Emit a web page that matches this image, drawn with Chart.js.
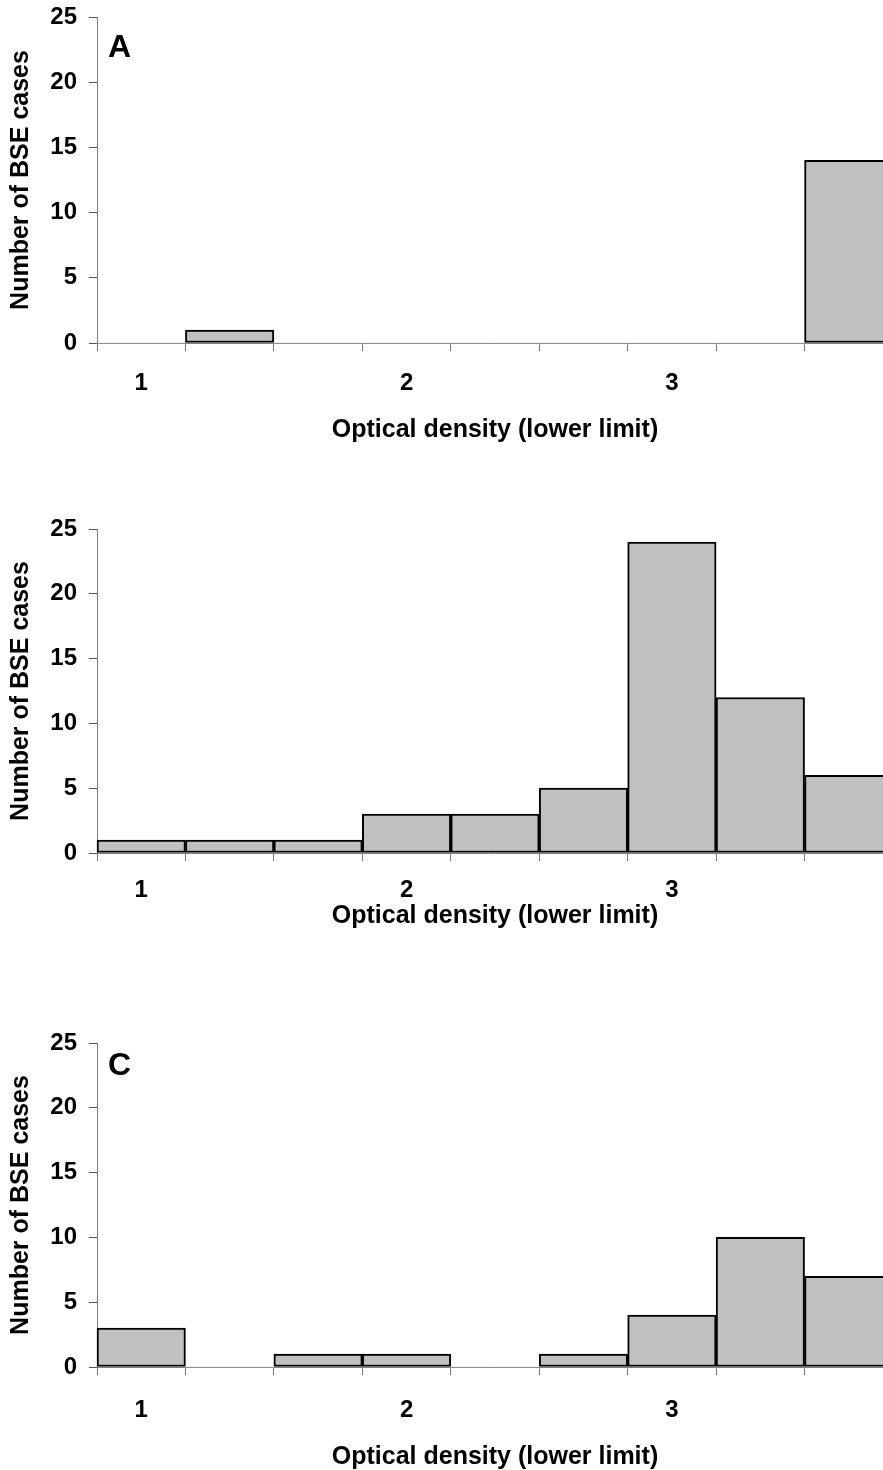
<!DOCTYPE html>
<html>
<head>
<meta charset="utf-8">
<title>BSE cases by optical density</title>
<script src="https://cdn.jsdelivr.net/npm/chart.js@4.4.1/dist/chart.umd.min.js"></script>
<style>
    html, body { margin: 0; padding: 0; background: #fff; overflow: hidden; }
    .panel { position: absolute; left: 0; }
</style>
</head>
<body>
<div class="panel" id="wrapA" style="top:0px"><canvas id="chartA"></canvas></div>
<div class="panel" id="wrapB" style="top:512px"><canvas id="chartB"></canvas></div>
<div class="panel" id="wrapC" style="top:1026px"><canvas id="chartC"></canvas></div>
<script>
// Histogram data, one array per panel (9 bins of optical density)
const binLabels = ['1', '', '', '2', '', '', '3', '', ''];
const casesA = [0, 1, 0, 0, 0, 0, 0, 0, 14];
const casesB = [1, 1, 1, 3, 3, 5, 24, 12, 6];
const casesC = [3, 0, 1, 1, 0, 1, 4, 10, 7];
const yMin = 0;
const yMax = 25;
const yStep = 5;
const xTitle = 'Optical density (lower limit)';
const yTitle = 'Number of BSE cases';

const FONT = '"Liberation Sans", Arial, sans-serif';
const AXIS_GREY = '#7f7f7f';

// Draws the panel letter (A, C) in the top left corner of the plot
const panelLetter = {
    id: 'panelLetter',
    afterDraw(chart, args, opts) {
        if (!opts.text) return;
        const { ctx, chartArea } = chart;
        ctx.save();
        ctx.font = 'bold 32px ' + FONT;
        ctx.fillStyle = '#000';
        ctx.textBaseline = 'alphabetic';
        ctx.fillText(opts.text, chartArea.left + opts.dx, chartArea.top + opts.dy);
        ctx.restore();
    }
};

function drawPanel(canvasId, values, letter, lay) {
    const canvas = document.getElementById(canvasId);
    canvas.width = 893;
    canvas.height = lay.height;

    return new Chart(canvas, {
        type: 'bar',
        data: {
            labels: binLabels,
            datasets: [{
                data: values,
                backgroundColor: '#c0c0c0',
                borderColor: '#000000',
                borderWidth: ctx => (ctx.raw > 0 ? 2 : 0),
                borderSkipped: false,
                barPercentage: 1,
                categoryPercentage: 1,
                clip: 4
            }]
        },
        options: {
            responsive: false,
            animation: false,
            layout: { padding: { top: 17, left: 0, right: 0, bottom: 0 } },
            plugins: {
                legend: { display: false },
                tooltip: { enabled: false },
                panelLetter: { text: letter, dx: 11, dy: lay.letterY }
            },
            scales: {
                x: {
                    offset: true,
                    afterFit: scale => { scale.height = lay.axisHeight; },
                    border: { display: true, color: AXIS_GREY, width: 1 },
                    grid: {
                        offset: true,
                        drawOnChartArea: false,
                        drawTicks: true,
                        tickLength: 8,
                        tickColor: AXIS_GREY,
                        lineWidth: 1
                    },
                    ticks: {
                        autoSkip: false,
                        maxRotation: 0,
                        padding: lay.labelPad,
                        color: '#000',
                        font: { family: FONT, size: 24, weight: 'bold' }
                    },
                    title: {
                        display: true,
                        text: xTitle,
                        color: '#000',
                        padding: { top: 0, bottom: 0 },
                        font: { family: FONT, size: 25, weight: 'bold' }
                    }
                },
                y: {
                    min: yMin,
                    max: yMax,
                    afterFit: scale => {
                        scale.width = 97;
                        scale.paddingTop = 0;
                        scale.paddingBottom = 0;
                    },
                    border: { display: true, color: AXIS_GREY, width: 1 },
                    grid: {
                        drawOnChartArea: false,
                        drawTicks: true,
                        tickLength: 8,
                        tickColor: '#555',
                        lineWidth: 1
                    },
                    ticks: {
                        stepSize: yStep,
                        padding: 12,
                        color: '#000',
                        font: { family: FONT, size: 24, weight: 'bold' }
                    },
                    title: {
                        display: true,
                        text: yTitle,
                        color: '#000',
                        padding: { top: 6, bottom: 0 },
                        font: { family: FONT, size: 25, weight: 'bold' }
                    }
                }
            }
        },
        plugins: [panelLetter]
    });
}

drawPanel('chartA', casesA, 'A', { height: 445, axisHeight: 102, labelPad: 18, letterY: 40 });
drawPanel('chartB', casesB, '', { height: 419, axisHeight: 78, labelPad: 15, letterY: 40 });
drawPanel('chartC', casesC, 'C', { height: 446, axisHeight: 105, labelPad: 21, letterY: 32 });
</script>
</body>
</html>
